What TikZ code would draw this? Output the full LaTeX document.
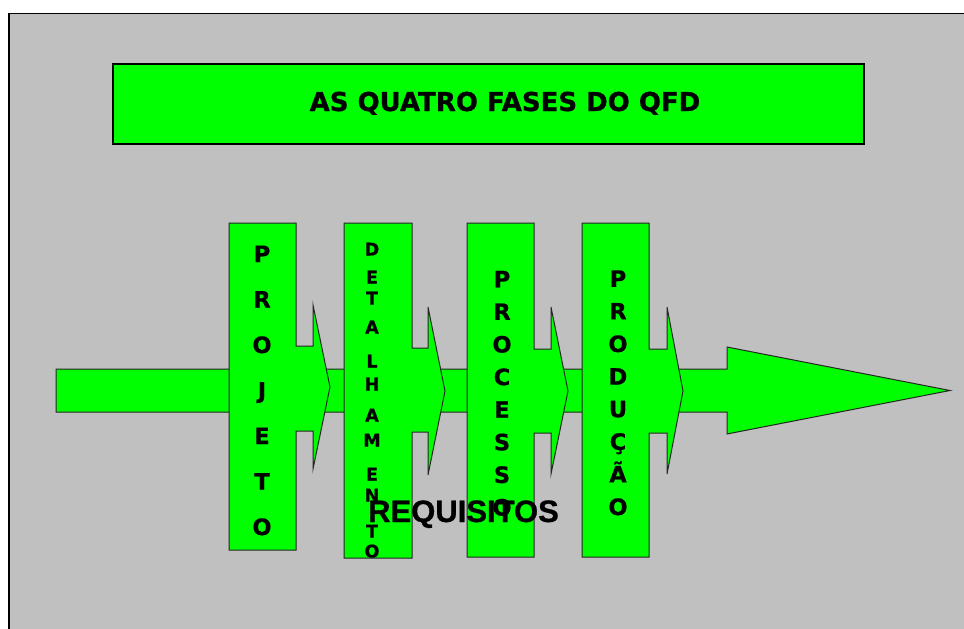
\documentclass[tikz,border=0pt]{standalone}
\usepackage{fontspec}
\setmainfont{Liberation Sans}
\newfontfamily\heavyfont[BoldFeatures={FakeBold=0.8}]{DejaVu Sans}
\newfontfamily\capfont[BoldFeatures={FakeBold=0.8}]{Liberation Sans}
\begin{document}
\begin{tikzpicture}[x=1pt,y=-1pt,
  phase/.style={fill=qgreen,draw=black!85,line width=1pt,line join=miter},
  bigtxt/.style={font=\capfont\fontsize{#1}{#1}\selectfont\bfseries,inner sep=0pt,anchor=base,text=black},
  heavytxt/.style={font=\heavyfont\fontsize{#1}{#1}\selectfont\bfseries,inner sep=0pt,anchor=base,text=black},
  letter/.style={font=\heavyfont\fontsize{#1}{#1}\selectfont\bfseries,inner sep=0pt,anchor=base,text=black}]
\definecolor{qgreen}{HTML}{00FF00}
\definecolor{qgray}{HTML}{C0C0C0}
\useasboundingbox (0,0) rectangle (964,629);
% slide background
\begin{scope}
\clip (0,0) rectangle (964,629);
\draw[fill=qgray,draw=black,line width=1.6pt] (9,13.5) rectangle (990,660);
\end{scope}
% title banner
\node[draw=black,line width=1.3pt,fill=qgreen,minimum width=751pt,minimum height=80pt,inner sep=0pt] (title) at (488.5,104) {};
\node[heavytxt=26] (titletext) at (505,111) {AS QUATRO FASES DO QFD};
% main arrow
\draw[phase] (56,369) -- (727,369) -- (727,347) -- (950,390.5) -- (727,434) -- (727,412) -- (56,412) -- cycle;
% phase blocks: L, R, T, B, notch top, notch bottom, notch x, head top, head bottom, tip x, tip y
\foreach \L/\R/\T/\B/\nt/\nb/\nx/\ht/\hb/\tx/\ty in {
  229/296/223/550/346/431/313/305/469/330/387,
  344/412/223/558/348/432/428/307/475/445/391,
  467/534/223/557/349/433/551/307/474/568/391,
  582/649/223/557/349/433/667/307/474/683/391}
  \draw[phase] (\L,\T) -- (\R,\T) -- (\R,\nt) -- (\nx,\nt) -- (\nx,\ht) -- (\tx,\ty) -- (\nx,\hb) -- (\nx,\nb) -- (\R,\nb) -- (\R,\B) -- (\L,\B) -- cycle;
% vertical labels (baselines)
\foreach \c [count=\i] in {P,R,O,J,E,T,O}
  \node[letter=22.5] (projeto-\i) at (262,{262+45.5*(\i-1)}) {\c};
\foreach \c/\y [count=\i] in {D/255.5,E/283.5,T/304.5,A/333.5,L/367.5,H/390.5,A/421.5,M/446.5,E/480.5,N/501.5,T/537.5,O/557.5}
  \node[letter=17.5] (detalhamento-\i) at (372,\y) {\c};
\foreach \c [count=\i] in {P,R,O,C,E,S,S,O}
  \node[letter=22.5] (processo-\i) at (502,{287.3+32.6*(\i-1)}) {\c};
\foreach \c [count=\i] in {P,R,O,D,U,Ç,Ã,O}
  \node[letter=22.5] (producao-\i) at (618,{286.8+32.6*(\i-1)}) {\c};
% caption over the blocks
\node[bigtxt=31] (requisitos) at (463.5,522) {REQUISITOS};
\end{tikzpicture}
\end{document}
